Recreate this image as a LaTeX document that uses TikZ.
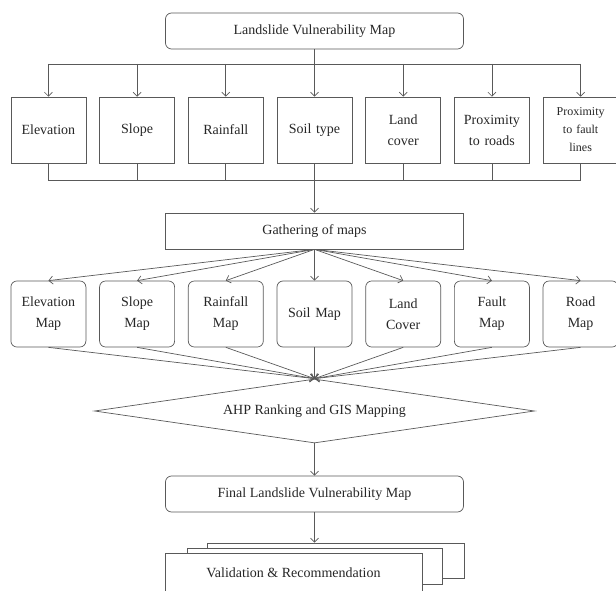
\documentclass[tikz,border=0pt]{standalone}
\usepackage{fontspec}
\setmainfont{Liberation Serif}
\usetikzlibrary{matrix,shapes.geometric,arrows.meta}

\begin{document}
\begin{tikzpicture}[x=1pt, y=-1pt, ampersand replacement=\&,
    line width=0.7pt, draw=black!65,
    every node/.style={text=black!85},
    box/.style={draw=black!65, font=\fontsize{14}{21}\selectfont, align=center},
    factor/.style={box, minimum width=75pt, minimum height=66pt,
      text width=57pt, inner sep=0pt, anchor=center},
    mapbox/.style={factor, rounded corners=6pt},
    wide/.style={box, minimum width=298pt, minimum height=36pt},
    sheet/.style={box, fill=white, minimum width=257pt, minimum height=36pt}]
    \useasboundingbox (0,0) rectangle (616,591);

    \node[wide, rounded corners=6pt] (lvm) at (314.5,31) {Landslide Vulnerability Map};

    \matrix (f) [matrix of nodes, nodes={factor},
    column sep=13pt] at (314.5,130) {
    Elevation \& Slope \& Rainfall \& Soil type \& Land cover \& Proximity to roads
      \& |[font=\fontsize{12}{18}\selectfont]| Proximity to fault lines \\
    };

    \node[wide] (gather) at (314.5,231) {Gathering of maps};

    \matrix (m) [matrix of nodes, nodes={mapbox},
    column sep=13pt] at (314.5,314) {
    Elevation Map \& Slope Map \& Rainfall Map \& Soil Map \& Land Cover \& Fault Map \& Road Map \\
    };

    \node[box, diamond, aspect=6.875, minimum width=440pt, minimum height=64pt, inner sep=0pt]
      (ahp) at (314.5,411) {AHP Ranking and GIS Mapping};

    \node[wide, rounded corners=6pt] (final) at (314.5,494) {Final Landslide Vulnerability Map};

    % stacked sheets, back to front
    \node[sheet, minimum height=35pt] (val3) at (335.5,560.5) {};
    \node[sheet, minimum width=255pt] (val2) at (314.5,566) {};
    \node[sheet, minimum height=40pt] (val) at (293.5,573) {Validation \& Recommendation};

    \coordinate (bus) at (0,64);
    \coordinate (join) at (0,180);

    \draw (lvm) -- (lvm |- bus);
    \draw (f-1-1 |- bus) -- (f-1-7 |- bus);
    \draw (f-1-1 |- join) -- (f-1-7 |- join);
    \path (f-1-1) edge (f-1-1 |- join)
          (f-1-2) edge (f-1-2 |- join)
          (f-1-3) edge (f-1-3 |- join)
          (f-1-4) edge (f-1-4 |- join)
          (f-1-5) edge (f-1-5 |- join)
          (f-1-6) edge (f-1-6 |- join)
          (f-1-7) edge (f-1-7 |- join);

    \path[-{Straight Barb[length=4pt, width=8pt]}]
      (f-1-1 |- bus) edge (f-1-1)
      (f-1-2 |- bus) edge (f-1-2)
      (f-1-3 |- bus) edge (f-1-3)
      (f-1-4 |- bus) edge (f-1-4)
      (f-1-5 |- bus) edge (f-1-5)
      (f-1-6 |- bus) edge (f-1-6)
      (f-1-7 |- bus) edge (f-1-7)
      (gather |- join) edge (gather)
    (gather.south) edge (m-1-1.north)
            edge (m-1-2.north)
            edge (m-1-3.north)
            edge (m-1-4.north)
            edge (m-1-5.north)
            edge (m-1-6.north)
            edge (m-1-7.north)
    (m-1-1.south) edge (ahp.north)
    (m-1-2.south) edge (ahp.north)
    (m-1-3.south) edge (ahp.north)
    (m-1-4.south) edge (ahp.north)
    (m-1-5.south) edge (ahp.north)
    (m-1-6.south) edge (ahp.north)
    (m-1-7.south) edge (ahp.north)
    (ahp.south) edge (final.north)
    (final.south) edge (final.south |- val3.north);
\end{tikzpicture}
\end{document}
